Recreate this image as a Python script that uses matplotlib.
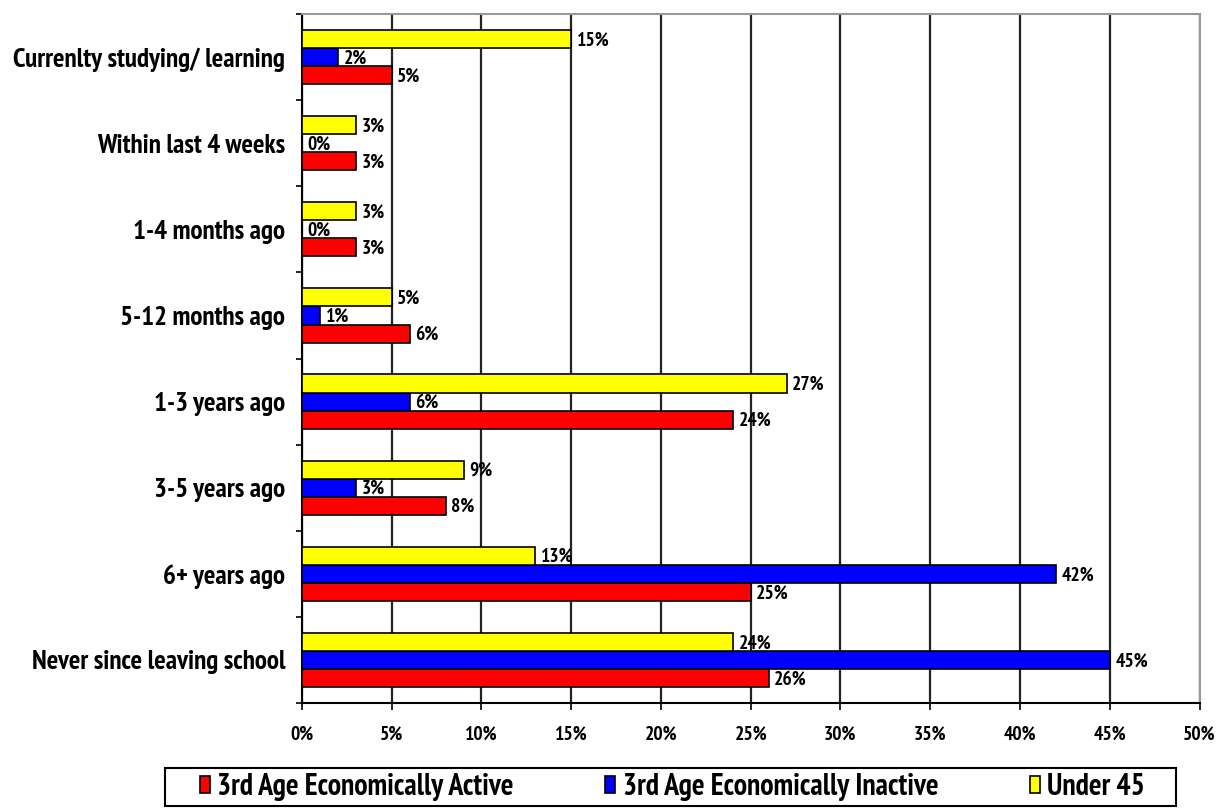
import matplotlib.pyplot as plt
from matplotlib.patches import Rectangle
import numpy as np

# Data
categories = ['Currenlty studying/ learning', 'Within last 4 weeks', '1-4 months ago',
              '5-12 months ago', '1-3 years ago', '3-5 years ago', '6+ years ago',
              'Never since leaving school']
active = [5, 3, 3, 6, 24, 8, 25, 26]
inactive = [2, 0, 0, 1, 6, 3, 42, 45]
under45 = [15, 3, 3, 5, 27, 9, 13, 24]
xticks = [0, 5, 10, 15, 20, 25, 30, 35, 40, 45, 50]

plt.rcParams['font.family'] = ['PT Sans Narrow', 'DejaVu Sans']
plt.rcParams['font.weight'] = 'bold'

fig = plt.figure(figsize=(12.24, 8.09), dpi=100)
ax = fig.add_axes([0.2467, 0.131, 0.7333, 0.8516])

y = np.arange(len(categories))
h = 0.21
series = [(active, '#ff0000', '3rd Age Economically Active', h),
          (inactive, '#0000ff', '3rd Age Economically Inactive', 0),
          (under45, '#ffff00', 'Under 45', -h)]
for vals, col, lab, off in series:
    bars = ax.barh(y + off, vals, height=h, color=col, edgecolor='black',
                   linewidth=1.2, label=lab, zorder=3)
    for b, v in zip(bars, vals):
        ax.annotate(f'{v}%', (b.get_width(), b.get_y() + b.get_height() / 2),
                    xytext=(4, -1), textcoords='offset points', va='center',
                    ha='left', fontsize=14, fontweight='bold', zorder=4)

ax.set_xlim(0, 50)
ax.set_ylim(len(categories) - 0.5, -0.5)
ax.set_xticks(xticks)
ax.set_xticklabels([f'{t}%' for t in xticks], fontsize=14, fontweight='bold')
ax.set_yticks(y)
ax.set_yticklabels(categories, fontsize=19.5, fontweight='bold')
ax.set_yticks(np.arange(len(categories) + 1) - 0.5, minor=True)
ax.tick_params(axis='y', which='major', length=0, pad=12)
ax.tick_params(axis='y', which='minor', length=4, width=1.2, direction='out')
ax.tick_params(axis='x', length=5, width=1.2, pad=11)
ax.grid(True, axis='x', color='#222222', linewidth=1.6, zorder=0)

for s in ['top', 'right']:
    ax.spines[s].set_color('#999999')
    ax.spines[s].set_linewidth(1.5)
for s in ['left', 'bottom']:
    ax.spines[s].set_color('black')
    ax.spines[s].set_linewidth(1.5)

# legend frame drawn separately so the entries can be spread inside it
W, H = 1224, 809
fig.patches.append(Rectangle((165 / W, 1 - 806 / H), 1011 / W, 38 / H,
                             transform=fig.transFigure, fill=False,
                             edgecolor='black', linewidth=1.5))
leg = fig.legend(loc='center left', bbox_to_anchor=(200 / W, 1 - 787 / H, 945 / W, 0),
                 mode='expand', ncol=3, fontsize=21.5, frameon=False,
                 handlelength=0.33, handleheight=0.5, handletextpad=0.25,
                 borderpad=0, borderaxespad=0)

plt.savefig('out.png', dpi=100)
